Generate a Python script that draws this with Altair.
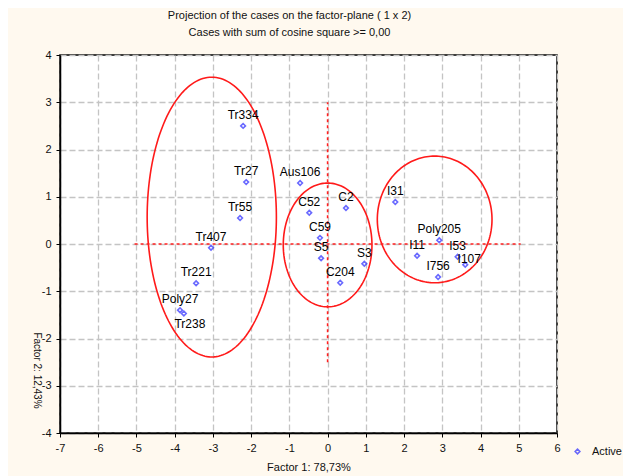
import altair as alt
import numpy as np
import pandas as pd

# ---- data ----
names = ["Tr334", "Tr27", "Tr55", "Tr407", "Tr221", "Poly27", "Tr238",
         "Aus106", "C52", "C2", "C59", "S5", "S3", "C204",
         "I31", "Poly205", "I11", "I53", "I756", "I107"]
fx = [-2.21, -2.13, -2.29, -3.05, -3.44, -3.86, -3.76,
      -0.72, -0.48, 0.48, -0.20, -0.17, 0.96, 0.33,
      1.77, 2.92, 2.34, 3.40, 2.89, 3.60]
fy = [2.50, 1.31, 0.55, -0.08, -0.83, -1.40, -1.47,
      1.29, 0.66, 0.76, 0.13, -0.30, -0.42, -0.82,
      0.89, 0.08, -0.25, -0.27, -0.70, -0.44]

ell_id = ["A", "B", "C"]
ell_cx = [-3.03, 0.00, 2.80]
ell_cy = [0.57, -0.02, 0.52]
ell_rx = [1.69, 1.16, 1.50]
ell_ry = [2.96, 1.31, 1.34]

x_ticks = [-7, -6, -5, -4, -3, -2, -1, 0, 1, 2, 3, 4, 5, 6]
y_ticks = [-4, -3, -2, -1, 0, 1, 2, 3, 4]

# origin cross (red dotted)
h_x = [-5.05, 5.05]
v_y = [-2.5, 3.0]

title_lines = ["Projection of the cases on the factor-plane (  1 x   2)",
               "Cases with sum of cosine square >=  0,00"]
x_title = "Factor 1: 78,73%"
y_title = "Factor 2: 12,43%"

# ---- tables ----
pts = pd.DataFrame({"name": names, "x": fx, "y": fy, "type": "Active"})

t = np.linspace(0, 2 * np.pi, 181)
rows = []
for i, e in enumerate(ell_id):
    for k, a in enumerate(t):
        rows.append({"id": e, "o": k,
                     "x": ell_cx[i] + ell_rx[i] * np.cos(a),
                     "y": ell_cy[i] + ell_ry[i] * np.sin(a)})
ell = pd.DataFrame(rows)

hline = pd.DataFrame({"x": [h_x[0]], "x2": [h_x[1]], "y": [0.0]})
vline = pd.DataFrame({"x": [0.0], "y": [v_y[0]], "y2": [v_y[1]]})

FONT = "Liberation Sans"
LBL = "datum.value < 0 ? '-' + abs(datum.value) : '' + datum.value"

xs = alt.Scale(domain=[-7, 6], nice=False, zero=False)
ys = alt.Scale(domain=[-4, 4], nice=False, zero=False)

xax = alt.Axis(values=x_ticks, tickCount=14, title=x_title, grid=True, gridColor="#c4c4c4",
               gridDash=[6, 3], gridWidth=1.3, domainColor="black", domainWidth=1.5,
               tickColor="black", tickSize=4, labelPadding=5, labelFont=FONT,
               labelFontSize=11, labelColor="#111", labelOverlap=False, labelFlush=False,
               labelExpr=LBL, titleFont=FONT, titleFontSize=11,
               titleFontWeight="normal", titleColor="#111", titlePadding=8)
yax = alt.Axis(values=y_ticks, tickCount=9, title=y_title, grid=True, gridColor="#c4c4c4",
               gridDash=[6, 3], gridWidth=1.3, domainColor="black", domainWidth=1.5,
               tickColor="black", tickSize=4, labelPadding=5, labelFont=FONT,
               labelFontSize=11, labelColor="#111", labelOverlap=False, labelFlush=False,
               labelExpr=LBL, titleFont=FONT, titleFontSize=10,
               titleFontWeight="normal", titleColor="#111", titleAngle=90,
               titleX=-24, titleY=315, titleAlign="center", titleBaseline="middle")

X = alt.X("x:Q", scale=xs, axis=xax)
Y = alt.Y("y:Q", scale=ys, axis=yax)

ellipses = alt.Chart(ell).mark_line(color="#ff1a1a", strokeWidth=1.6).encode(
    x=X, y=Y, detail="id:N", order="o:Q")

hr = alt.Chart(hline).mark_rule(color="#ff2020", strokeDash=[3, 3], strokeWidth=1.6).encode(
    x=X, x2="x2:Q", y=Y)
vr = alt.Chart(vline).mark_rule(color="#ff2020", strokeDash=[3, 3], strokeWidth=1.6).encode(
    x=X, y=Y, y2="y2:Q")

points = alt.Chart(pts).mark_point(shape="diamond", filled=False, size=22, strokeWidth=1.6).encode(
    x=X, y=Y,
    color=alt.Color("type:N", scale=alt.Scale(range=["#2b2bff"]),
                    legend=alt.Legend(title=None, orient="none", legendX=512, legendY=391,
                                      labelFont=FONT, labelFontSize=11, labelColor="#111",
                                      symbolSize=22, symbolStrokeWidth=1.6, labelOffset=9)))

below = ["Tr238"]
right = ["I107"]
lab_above = alt.Chart(pts).transform_filter(
    ~alt.FieldOneOfPredicate(field="name", oneOf=below + right)
).mark_text(font=FONT, fontSize=12, color="black", dy=-11).encode(x=X, y=Y, text="name:N")
lab_below = alt.Chart(pts).transform_filter(
    alt.FieldOneOfPredicate(field="name", oneOf=below)
).mark_text(font=FONT, fontSize=12, color="black", dy=11, dx=6).encode(x=X, y=Y, text="name:N")
lab_right = alt.Chart(pts).transform_filter(
    alt.FieldOneOfPredicate(field="name", oneOf=right)
).mark_text(font=FONT, fontSize=12, color="black", dy=-6, dx=4).encode(x=X, y=Y, text="name:N")

chart = alt.layer(ellipses, hr, vr, points, lab_above, lab_below, lab_right).properties(
    width=497, height=378,
    autosize=alt.AutoSizeParams(type="none"),
    padding={"left": 52, "top": 47, "right": 66, "bottom": 43},
    background="#fff9ef",
    title=alt.TitleParams(text=title_lines, font=FONT, fontSize=11, fontWeight="normal",
                          color="#111", anchor="middle", dx=-19, offset=11, lineHeight=17),
).configure_view(fill="white", stroke="black", strokeWidth=1.5)

chart.save("out.html", embed_options={"renderer": "svg", "actions": False})
